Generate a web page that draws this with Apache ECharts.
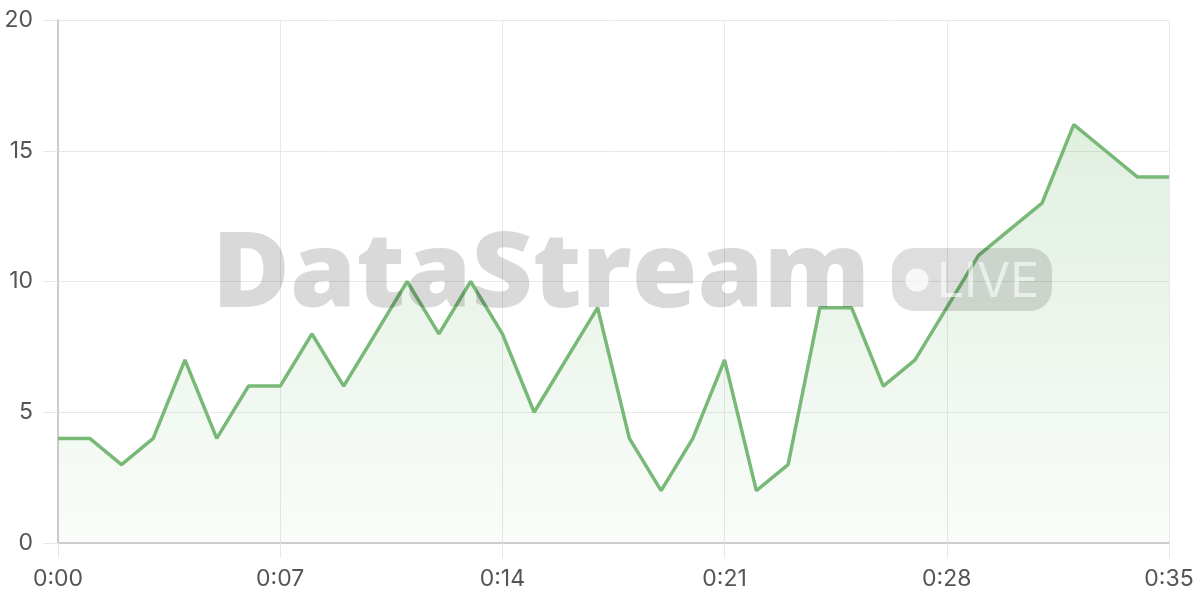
<!DOCTYPE html>
<html><head><meta charset="utf-8">
<script src="https://cdn.jsdelivr.net/npm/echarts@6/dist/echarts.min.js"></script>
<style>html,body{margin:0;padding:0;background:#fff}#c{width:1200px;height:600px}</style>
</head><body><div id="c"></div>
<script>
const seconds = [0,1,2,3,4,5,6,7,8,9,10,11,12,13,14,15,16,17,18,19,20,21,22,23,24,25,26,27,28,29,30,31,32,33,34,35];
const values  = [4,4,3,4,7,4,6,6,8,6,8,10,8,10,8,5,7,9,4,2,4,7,2,3,9,9,6,7,9,11,12,13,16,15,14,14];
const yTicks = [0,5,10,15,20];
const watermarkText = 'DataStream';
const badgeText = 'LIVE';

const wmFont = '800 104px "Open Sans"';
const ctx = document.createElement('canvas').getContext('2d');
ctx.font = wmFont;
const wmWidth = ctx.measureText(watermarkText).width;
const wmScale = 658 / wmWidth;

const chart = echarts.init(document.getElementById('c'), null, {renderer:'canvas'});
const fmt = v => { const m = Math.floor(v/60), s = v%60; return m + ':' + String(s).padStart(2,'0'); };
chart.setOption({
  animation:false,
  grid:{left:58,right:31,top:20,bottom:57},
  xAxis:{type:'value',min:0,max:35,interval:7,
    axisLine:{show:true,lineStyle:{color:'#ccc',width:2}},
    axisTick:{show:true,length:15,lineStyle:{color:'#e8e8e8'}},
    splitLine:{show:true,lineStyle:{color:'#e8e8e8',width:1}},
    axisLabel:{color:'#555',fontSize:23,fontFamily:'Inter',margin:25,formatter:fmt}},
  yAxis:{type:'value',min:yTicks[0],max:yTicks[yTicks.length-1],interval:5,
    axisLine:{show:true,lineStyle:{color:'#ccc',width:2}},
    axisTick:{show:true,length:15,lineStyle:{color:'#e8e8e8'}},
    splitLine:{show:true,lineStyle:{color:'#e8e8e8',width:1}},
    axisLabel:{color:'#555',fontSize:23,fontFamily:'Inter',margin:25}},
  series:[{type:'line',data:seconds.map((s,i)=>[s,values[i]]),symbol:'none',
    lineStyle:{color:'#78b978',width:3.5},
    areaStyle:{color:new echarts.graphic.LinearGradient(0,0,0,1,[
      {offset:0,color:'rgba(120,185,120,0.32)'},{offset:1,color:'rgba(120,185,120,0.06)'}])}}],
  graphic:[
    {type:'text',z:100,x:212,y:225,scaleX:wmScale,style:{text:watermarkText,font:wmFont,fill:'rgba(0,0,0,0.15)',verticalAlign:'top'}},
    {type:'rect',z:100,shape:{x:892,y:248,width:160,height:63,r:22},style:{fill:'rgba(0,0,0,0.13)'}},
    {type:'circle',z:101,shape:{cx:917,cy:280,r:11.5},style:{fill:'rgba(255,255,255,0.75)'}},
    {type:'text',z:101,x:937,y:259,style:{text:badgeText,font:'48px Inter',fill:'rgba(255,255,255,0.6)',verticalAlign:'top'}}
  ]
});
</script></body></html>
